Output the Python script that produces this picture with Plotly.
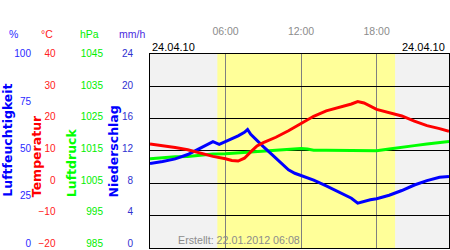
import plotly.graph_objects as go

DAY = "2010-04-24 "

# ---- data ----
temp_time = ["00:00", "01:00", "02:00", "03:00", "04:00", "05:00", "06:00", "06:30", "07:00",
             "07:30", "08:00", "08:30", "09:00", "10:00", "11:00", "12:00", "13:00", "14:00",
             "15:00", "16:00", "16:30", "17:00", "18:00", "19:00", "20:00", "21:00", "22:00",
             "23:00", "23:45"]
temp_c = [11.4, 10.9, 10.3, 9.6, 8.6, 7.5, 6.75, 6.2, 6.0,
          6.9, 8.9, 10.8, 11.85, 13.55, 15.6, 18.0, 20.2, 21.9,
          22.9, 24.1, 24.85, 24.4, 22.4, 21.3, 20.3, 18.65, 17.25,
          16.3, 15.4]

press_time = ["00:00", "01:00", "02:00", "03:00", "04:00", "05:00", "06:00", "07:00", "08:00",
              "09:00", "10:00", "11:00", "12:00", "12:30", "13:00", "14:00", "15:00", "16:00",
              "17:00", "18:00", "19:00", "20:00", "21:00", "22:00", "23:00", "23:45"]
press_hpa = [1011.7, 1012.0, 1012.4, 1012.45, 1012.85, 1013.25, 1013.3, 1013.55, 1013.9,
             1014.05, 1014.5, 1014.7, 1015.0, 1014.8, 1014.45, 1014.4, 1014.4, 1014.4,
             1014.4, 1014.3, 1014.85, 1015.45, 1015.9, 1016.4, 1016.85, 1017.2]

hum_time = ["00:00", "01:00", "02:00", "03:00", "04:00", "05:00", "05:30", "06:00", "06:30",
            "07:00", "07:30", "07:45", "08:00", "08:30", "09:00", "09:30", "10:00", "10:30",
            "11:00", "11:30", "12:00", "13:00", "14:00", "15:00", "15:30", "16:00", "16:30",
            "17:00", "17:30", "18:00", "19:00", "20:00", "21:00", "22:00", "23:00", "23:45"]
hum_pct = [42.1, 43.1, 44.5, 46.8, 50.2, 53.6, 52.2, 53.6, 55.2,
           56.7, 58.5, 60.0, 57.5, 54.1, 51.0, 47.9, 44.8, 42.0,
           38.7, 36.9, 35.6, 33.25, 30.2, 27.1, 25.3, 23.7, 21.1,
           22.2, 22.9, 23.45, 25.3, 27.8, 30.7, 33.0, 34.8, 35.2]

precip_time = ["00:00", "06:00", "12:00", "18:00"]
precip_mm = [0, 0, 0, 0]

sunrise, sunset = "05:21", "19:28"
time_ticks = ["06:00", "12:00", "18:00"]
hum_ticks = [0, 25, 50, 75, 100]
temp_ticks = [-20, -10, 0, 10, 20, 30, 40]
press_ticks = [985, 995, 1005, 1015, 1025, 1035, 1045]
precip_ticks = [0, 4, 8, 12, 16, 20, 24]

# ---- layout geometry ----
W, H = 450, 250
L, R, T, B = 150, 449, 50, 249
xdom = [L / W, R / W]
ydom = [1 - B / H, 1 - T / H]


def py(pix):
    return 1 - pix / H


def px(pix):
    return pix / W


def full(ts):
    return [DAY + t for t in ts]


FONT = "Liberation Sans, Arial, sans-serif"
RED, GREEN, BLUE = "#ff0000", "#00ff00", "#0000ff"

fig = go.Figure()
# grid helper (dummy)
fig.add_trace(go.Scatter(x=[None], y=[None], yaxis="y", showlegend=False, hoverinfo="skip"))
fig.add_trace(go.Scatter(x=full(press_time), y=press_hpa, yaxis="y2", mode="lines",
                         line=dict(color=GREEN, width=3), name="Luftdruck"))
fig.add_trace(go.Scatter(x=full(hum_time), y=hum_pct, yaxis="y3", mode="lines",
                         line=dict(color=BLUE, width=3), name="Luftfeuchtigkeit"))
fig.add_trace(go.Scatter(x=full(temp_time), y=temp_c, yaxis="y4", mode="lines",
                         line=dict(color=RED, width=3), name="Temperatur"))
fig.add_trace(go.Bar(x=full(precip_time), y=precip_mm, yaxis="y5", marker=dict(color=BLUE, line_width=0),
                     name="Niederschlag"))


def label_axis(pos, rng, ticks, color):
    return dict(domain=ydom, anchor="free", overlaying="y", side="left", position=pos,
                range=rng, tickvals=ticks, showgrid=False, zeroline=False, showline=False,
                ticks="", tickfont=dict(family=FONT, size=10, color=color), fixedrange=True)


fig.update_layout(
    width=W, height=H, autosize=False,
    margin=dict(l=0, r=0, t=0, b=0),
    paper_bgcolor="white", plot_bgcolor="#f2f2f2",
    showlegend=False,
    xaxis=dict(domain=xdom, type="date", side="top",
               range=[DAY + "00:00", DAY + "23:45"],
               tickvals=full(time_ticks), ticktext=time_ticks,
               showgrid=True, gridcolor="#808080", gridwidth=1,
               ticks="outside", ticklen=14, tickcolor="rgba(0,0,0,0)",
               tickfont=dict(family=FONT, size=10.5, color="#8c8c8c"),
               showline=True, mirror=True, linecolor="black", linewidth=1,
               zeroline=False),
    yaxis=dict(domain=ydom, range=[0, 6], tick0=0, dtick=1, showgrid=True,
               gridcolor="black", gridwidth=1, showticklabels=False, ticks="",
               zeroline=False, showline=True, mirror=True, linecolor="black", linewidth=1),
    yaxis2=label_axis(px(103), [1045 - 199 / 3.233, 1045], press_ticks, "#00ee00"),
    yaxis3=label_axis(px(31), [100 - 199 / 1.94, 100], hum_ticks, "#2a2aff"),
    yaxis4=label_axis(px(55.5), [40 - 199 / 3.233, 40], temp_ticks, "#ff2020"),
    yaxis5=label_axis(px(133), [24 - 199 / 8.083, 24], precip_ticks, "#3030d0"),
    shapes=[dict(type="rect", xref="x", yref="paper", x0=DAY + sunrise, x1=DAY + sunset,
                 y0=ydom[0], y1=ydom[1], fillcolor="#ffff99", line=dict(width=0), layer="below")],
)

ann = []
for text, cx, col in [("%", 13.7, "#2a2aff"), ("°C", 46.7, "#ff2020"),
                      ("hPa", 89.5, "#00ee00"), ("mm/h", 132, "#4a2ae0")]:
    ann.append(dict(text=text, x=px(cx), y=py(30), xref="paper", yref="paper",
                    xanchor="center", yanchor="middle", showarrow=False,
                    font=dict(family=FONT, size=10.5, color=col)))
ann.append(dict(text="24.04.10", x=px(150), y=py(43.3), xref="paper", yref="paper",
                xanchor="left", yanchor="middle", showarrow=False,
                font=dict(family=FONT, size=11, color="black")))
ann.append(dict(text="24.04.10", x=px(447), y=py(43.3), xref="paper", yref="paper",
                xanchor="right", yanchor="middle", showarrow=False,
                font=dict(family=FONT, size=11, color="black")))
ann.append(dict(text="Erstellt: 22.01.2012 06:08", x=px(176), y=py(241), xref="paper", yref="paper",
                xanchor="left", yanchor="middle", showarrow=False,
                font=dict(family=FONT, size=10.7, color="#8c8c8c")))
for text, cx, col in [("Luftfeuchtigkeit", 8.0, BLUE), ("Temperatur", 36.0, RED),
                      ("Luftdruck", 71.5, GREEN), ("Niederschlag", 113.3, BLUE)]:
    ann.append(dict(text="<b>" + text + "</b>", x=px(cx), y=py(199), xref="paper", yref="paper",
                    xanchor="center", yanchor="bottom", textangle=-90, showarrow=False,
                    font=dict(family="DejaVu Sans", size=12.5, color=col)))
fig.update_layout(annotations=ann)

fig.write_html("out.html")
